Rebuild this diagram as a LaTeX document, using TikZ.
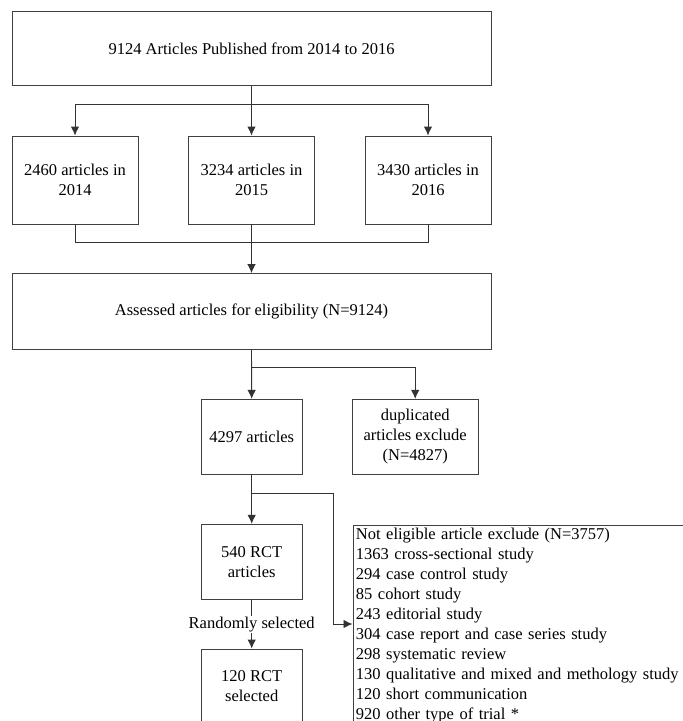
\documentclass[tikz,border=0pt]{standalone}
\usepackage{fontspec}
\setmainfont{Liberation Serif}
\usepackage{tikz}
\usetikzlibrary{positioning,arrows.meta}

\begin{document}
\begin{tikzpicture}[x=1pt,y=-1pt,
	every node/.style={font=\fontsize{16.5}{20}\selectfont},
	box/.style={rectangle,draw=black!75,line width=0.9pt,align=center,inner sep=2pt},
	edge/.style={draw=black!80,line width=0.9pt},
	arr/.style={edge,-{Latex[length=9pt,width=8.5pt]}}]

		\useasboundingbox (0,0) rectangle (683,721);
		\clip (0,0) rectangle (683,721);

		%top box
		\node[box,minimum width=479,minimum height=74.5] (n1) at (251.5,48.3) {9124 Articles Published from 2014 to 2016};

		%year boxes
		\node[box,minimum width=126,minimum height=88] (n2) at (75,180) {2460 articles in\\2014};
		\node[box,minimum width=126,minimum height=88] (n3) at (251.5,180) {3234 articles in\\2015};
		\node[box,minimum width=126,minimum height=88] (n4) at (428,180) {3430 articles in\\2016};

		%assessed
		\node[box,minimum width=479,minimum height=75.5] (n5) at (251.5,311.3) {Assessed articles for eligibility (N=9124)};

		%after duplicates
		\node[box,minimum width=101,minimum height=74.7] (n6) at (251.7,436.7) {4297 articles};
		\node[box,minimum width=126,minimum height=74.7] (n7) at (415.2,436.7) {duplicated\\articles exclude\\(N=4827)};

		%rct
		\node[box,minimum width=101,minimum height=75] (n8) at (251.7,561.8) {540 RCT\\articles};
		\node[box,minimum width=101,minimum height=75] (n9) at (251.7,686.5) {120 RCT\\selected};

		%excluded list
		\node[box,anchor=north west,align=left,text width=340,inner xsep=3pt,inner ysep=1pt] (n10) at (352.5,524.5) {%
			\strut Not eligible article exclude (N=3757)\\
			1363 cross-sectional study\\
			294 case control study\\
			85 cohort study\\
			243 editorial study\\
			304 case report and case series study\\
			298 systematic review\\
			130 qualitative and mixed and methology study\\
			120 short communication\\
			920 other type of trial *\\
			\strut};

		%split points
		\coordinate (s1) at (251.5,104.3);
		\coordinate (m1) at (251.5,242.7);
		\coordinate (s2) at (251.7,367.7);
		\coordinate (s3) at (251.7,493.3);
		\coordinate (c3) at (333,624);

		%edges
		\draw[arr] (n1.south) -- (n3.north);
		\draw[arr] (s1) -| (n2.north);
		\draw[arr] (s1) -| (n4.north);
		\draw[edge] (n2.south) |- (m1) -| (n4.south);
		\draw[arr] (n3.south) -- (n5.north);
		\draw[arr] (n5.south) -- (n6.north);
		\draw[arr] (s2) -| (n7.north);
		\draw[arr] (n6.south) -- (n8.north);
		\draw[arr] (s3) -| (c3) -- (c3 -| n10.west);
		\draw[arr] (n8.south) -- (n9.north) node[midway,fill=white,inner sep=1pt] {Randomly selected};

\end{tikzpicture}
\end{document}
